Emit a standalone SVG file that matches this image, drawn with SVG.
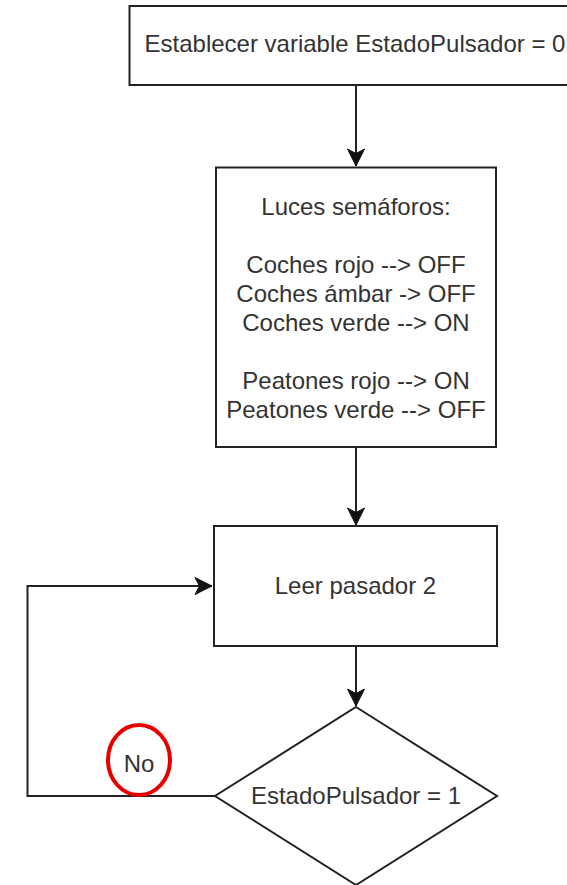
<svg xmlns="http://www.w3.org/2000/svg" width="567" height="885" viewBox="0 0 567 885">
<defs>
<style>
.box{fill:#fff;stroke:#222;stroke-width:2}
.edge{fill:none;stroke:#222;stroke-width:2}
.t{font-family:"Liberation Sans",Arial,sans-serif;font-size:24px;fill:#333;text-anchor:middle}
</style>
<marker id="arr" markerUnits="userSpaceOnUse" markerWidth="20" markerHeight="20" viewBox="-18 -10 20 20" refX="0" refY="0" orient="auto">
<path d="M0,0 L-17,-8.5 L-12.5,0 L-17,8.5 Z" fill="#111" stroke="#111" stroke-width="1"/>
</marker>
</defs>
<rect width="567" height="885" fill="#fff"/>
<g id="connectors">
<path class="edge" d="M356,86 V166" marker-end="url(#arr)"/>
<path class="edge" d="M356,447 V525" marker-end="url(#arr)"/>
<path class="edge" d="M356,646 V706" marker-end="url(#arr)"/>
<path class="edge" d="M215,796 H27.5 V586 H212" marker-end="url(#arr)"/>
</g>
<g id="n_init">
<rect class="box" x="129.5" y="6" width="454" height="79"/>
<text class="t" x="355" y="52">Establecer variable EstadoPulsador = 0</text>
</g>
<g id="n_luces">
<rect class="box" x="216" y="167.5" width="280" height="279.5"/>
<text class="t" x="356" y="215">Luces semáforos:</text>
<text class="t" x="356" y="273">Coches rojo --&gt; OFF</text>
<text class="t" x="356" y="302">Coches ámbar -&gt; OFF</text>
<text class="t" x="356" y="331">Coches verde --&gt; ON</text>
<text class="t" x="356" y="389">Peatones rojo --&gt; ON</text>
<text class="t" x="356" y="418">Peatones verde --&gt; OFF</text>
</g>
<g id="n_leer">
<rect class="box" x="214" y="526" width="283" height="120"/>
<text class="t" x="355.5" y="594">Leer pasador 2</text>
</g>
<g id="n_decision">
<path class="box" d="M356,707 L497,796 L356,885 L215,796 Z"/>
<text class="t" x="356" y="804">EstadoPulsador = 1</text>
</g>
<g id="label_no">
<ellipse cx="139" cy="760" rx="31" ry="35" fill="none" stroke="#e80000" stroke-width="4"/>
<text class="t" x="139" y="772">No</text>
</g>
</svg>
